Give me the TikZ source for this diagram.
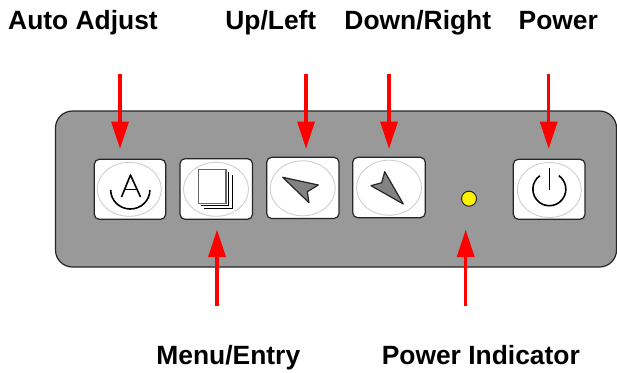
\documentclass[tikz,border=0pt]{standalone}
\usepackage{fontspec}
\setmainfont{Liberation Sans}
\usetikzlibrary{arrows.meta}
\definecolor{panelgray}{HTML}{999999}
\definecolor{ringgray}{HTML}{CFCFCF}
\tikzset{
  x=1pt,y=-1pt,
  lab/.style={font=\fontsize{26.4}{28}\selectfont\bfseries,anchor=base,inner sep=0pt},
  btn/.style={draw=black!85,line width=1.2pt,fill=white,rounded corners=5pt},
  ring/.style={draw=ringgray,line width=0.9pt},
  callout/.style={draw=red,line width=3.2pt,-{Triangle[length=27pt,width=18pt,fill=red,line width=0pt]}},
  glyph/.style={draw=black,line width=1.6pt},
  dart/.style={draw=black!85,line width=1.2pt,fill=panelgray!85!black,line join=round}
}
\begin{document}
\begin{tikzpicture}
\useasboundingbox (0,0) rectangle (617,372);
% panel
\draw[draw=black!85,line width=1.2pt,fill=panelgray,rounded corners=17pt] (55.5,111) rectangle (616.5,267);
% buttons
\draw[btn] (94.3,159.3) rectangle (165.7,219.3);
\draw[ring] (129.3,189.3) ellipse (32 and 27);
\draw[btn] (180,158.7) rectangle (252.5,219.3);
\draw[ring] (216,189.3) ellipse (32.5 and 27);
\draw[btn] (266.7,157.3) rectangle (339,218.5);
\draw[ring] (302.7,188.3) ellipse (32.5 and 27.5);
\draw[btn] (352.7,157.3) rectangle (425.3,217.7);
\draw[ring] (389,187.7) ellipse (32.5 and 27.5);
\draw[btn] (513.3,159.3) rectangle (585,219.3);
\draw[ring] (549.3,190) ellipse (32 and 27.5);
% A glyph
\draw[glyph,line join=round] (121.5,197) -- (130.5,175) -- (140.5,197);
\draw[glyph] (124.2,189.5) -- (137.8,189.5);
\draw[glyph] (110.7,190) arc [start angle=180,end angle=0,x radius=19.6,y radius=19];
% page stack
\draw[draw=black!60,line width=1.3pt,fill=white] (198.3,169.3) rectangle (226,203.3);
\draw[draw=black,line width=0.9pt] (228.7,172) -- (228.7,205.7) -- (201,205.7);
\draw[draw=black,line width=0.9pt] (232.7,175) -- (232.7,208) -- (204,208);
% darts
\draw[dart] (282.7,177.3) -- (318.3,185) -- (307.3,191.7) -- (309,202.7) -- cycle;
\draw[dart] (384.7,171.7) -- (403.3,204) -- (371,185.7) -- (381.7,182.7) -- cycle;
% power glyph
\draw[glyph] (558.8,175.7) arc [start angle=-55,end angle=235,radius=16.5];
\draw[glyph] (549.3,167.7) -- (549.3,190);
% LED
\node[circle,draw=black!85,line width=1pt,fill=yellow,minimum size=15pt,inner sep=0pt] (led) at (469,198.7) {};
% labels
\node[lab] (autoadjust) at (83,29.3) {Auto Adjust};
\node[lab] (upleft) at (270.8,29.3) {Up/Left};
\node[lab] (downright) at (417.8,29.3) {Down/Right};
\node[lab] (power) at (558.3,29.3) {Power};
\node[lab] (menuentry) at (228.3,364.3) {Menu/Entry};
\node[lab] (powerind) at (480.8,364.3) {Power Indicator};
% callouts
\coordinate (as) at (120,74);   \coordinate (at) at (120,148.5);
\coordinate (us) at (306,74);   \coordinate (ut) at (306,148.5);
\coordinate (ds) at (389,74);   \coordinate (dt) at (389,148.5);
\coordinate (ps) at (548.7,74); \coordinate (pt) at (548.7,148.5);
\coordinate (ms) at (217,306);  \coordinate (mt) at (217,230);
\coordinate (ls) at (465.7,306);\coordinate (lt) at (465.7,230);
\draw[callout] (as) -- (at);
\draw[callout] (us) -- (ut);
\draw[callout] (ds) -- (dt);
\draw[callout] (ps) -- (pt);
\draw[callout] (ms) -- (mt);
\draw[callout] (ls) -- (lt);
\end{tikzpicture}
\end{document}
